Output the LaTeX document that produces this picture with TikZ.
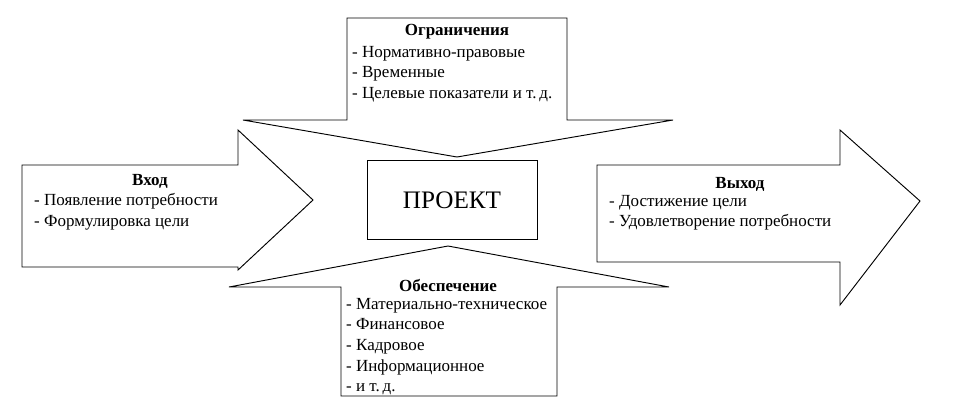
\documentclass[tikz,border=0pt]{standalone}
\usepackage{fontspec}
\setmainfont{Liberation Serif}
\tikzset{
  arrowshape/.style={draw, line width=0.8pt, fill=white},
  title/.style={font=\fontsize{14.5}{17}\selectfont\bfseries, inner sep=0pt},
  items/.style={font=\fontsize{14.5}{17.6}\selectfont, align=left, anchor=north west, inner sep=0pt}
}
\begin{document}
\begin{tikzpicture}[x=0.03cm, y=-0.03cm]
  \useasboundingbox (0,0) rectangle (964,411);
  % input arrow
  \draw[arrowshape] (22,165) -- (238,165) -- (238,130) -- (313,200) -- (238,270) -- (238,267) -- (22,267) -- cycle;
  % output arrow
  \draw[arrowshape] (597,165) -- (840,165) -- (840,130) -- (920,201) -- (840,305) -- (840,262) -- (597,262) -- cycle;
  % constraints arrow (down)
  \draw[arrowshape] (347,18) -- (567,18) -- (567,120) -- (673,120) -- (457,157) -- (243,120) -- (347,120) -- cycle;
  % resources arrow (up)
  \draw[arrowshape] (341,396) -- (557,396) -- (557,287) -- (669,287) -- (448,246) -- (229,287) -- (341,287) -- cycle;
  % project
  \node[draw, line width=0.8pt, minimum width=170*0.03cm, minimum height=79*0.03cm,
        font=\fontsize{21.5}{24}\selectfont] (proj) at (452,200) {ПРОЕКТ};
  % texts
  \node[title] (limT) at (457,32) {Ограничения};
  \node[items] (limL) at (352,46) {- Нормативно-правовые\\- Временные\\- Целевые показатели и т.\,д.};
  \node[title] (inT) at (150,181) {Вход};
  \node[items] (inL) at (34,193) {- Появление потребности\\- Формулировка цели};
  \node[title] (outT) at (740,184) {Выход};
  \node[items] (outL) at (609,195) {- Достижение цели\\- Удовлетворение потребности};
  \node[title] (resT) at (448,285) {Обеспечение};
  \node[items] (resL) at (346,298) {- Материально-техническое\\- Финансовое\\- Кадровое\\- Информационное\\- и т.\,д.};
\end{tikzpicture}
\end{document}
